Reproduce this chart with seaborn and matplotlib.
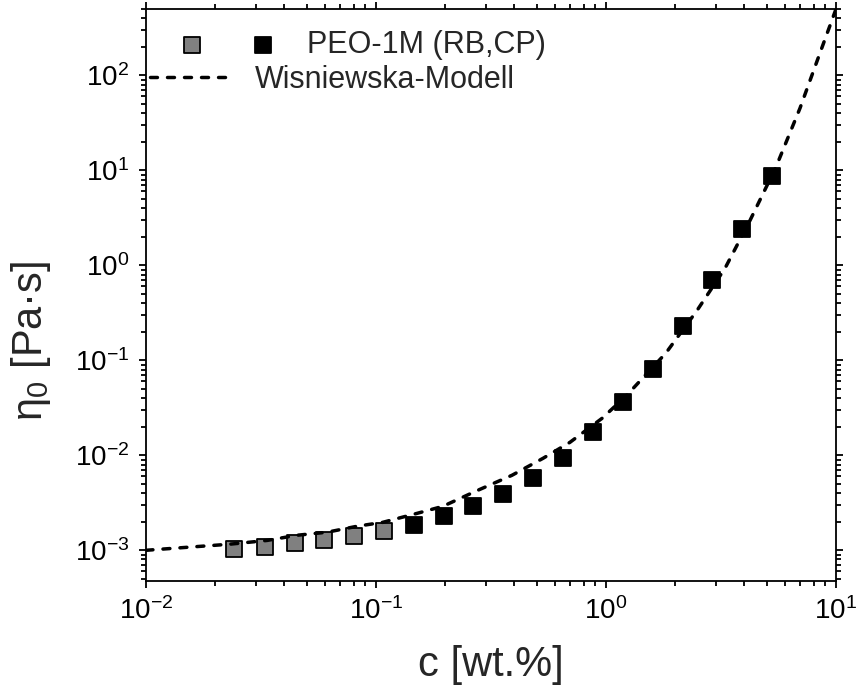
import matplotlib
matplotlib.use("Agg")
import matplotlib.pyplot as plt
from matplotlib.legend_handler import HandlerTuple
from matplotlib.ticker import LogLocator, NullFormatter
import seaborn as sns
import pandas as pd

# ---- data ----
c_grey = [0.0241, 0.0329, 0.0444, 0.0594, 0.0802, 0.1083]
eta_grey = [1.024e-3, 1.075e-3, 1.185e-3, 1.274e-3, 1.404e-3, 1.585e-3]

c_black = [0.1463, 0.1976, 0.2642, 0.3566, 0.4815, 0.6501, 0.8777,
           1.185, 1.600, 2.161, 2.890, 3.903, 5.268]
eta_black = [1.83e-3, 2.28e-3, 2.92e-3, 3.95e-3, 5.82e-3, 9.46e-3, 1.76e-2,
             3.64e-2, 8.04e-2, 0.228, 0.695, 2.39, 8.65]

model_c = [0.01, 0.0232, 0.0336, 0.0454, 0.0613, 0.0826, 0.107, 0.151, 0.195,
           0.277, 0.390, 0.532, 0.697, 0.961, 1.23, 1.82, 2.49, 3.29, 4.23,
           5.48, 6.97, 8.51, 10.0]
model_eta = [1.0e-3, 1.16e-3, 1.27e-3, 1.44e-3, 1.55e-3, 1.79e-3, 1.97e-3,
             2.45e-3, 2.90e-3, 4.28e-3, 6.16e-3, 9.29e-3, 1.37e-2, 2.45e-2,
             4.28e-2, 0.119, 0.336, 0.929, 2.98, 10.8, 45.0, 171.0, 500.0]

label_data = "PEO-1M (RB,CP)"
label_model = "Wisniewska-Modell"
xlabel = "c [wt.%]"
ylabel = r"$\eta_0$ [Pa·s]"

sns.set_style("ticks")
plt.rcParams["font.family"] = ["Liberation Sans", "DejaVu Sans"]
plt.rcParams["mathtext.fontset"] = "custom"
plt.rcParams["mathtext.rm"] = "Liberation Sans"
plt.rcParams["mathtext.it"] = "Liberation Sans"
plt.rcParams["mathtext.default"] = "regular"
plt.rcParams["axes.unicode_minus"] = False

fig = plt.figure(figsize=(8.56, 6.97), dpi=100)
ax = fig.add_axes([146 / 856, 1 - 581 / 697, 690 / 856, 572 / 697])

df_model = pd.DataFrame({"c": model_c, "eta": model_eta})
df_grey = pd.DataFrame({"c": c_grey, "eta": eta_grey})
df_black = pd.DataFrame({"c": c_black, "eta": eta_black})

sns.lineplot(data=df_model, x="c", y="eta", ax=ax, color="black",
             linewidth=2.5, sort=False, estimator=None, zorder=3)
line = ax.lines[-1]
line.set_dashes((2.0, 2.9))
line.set_dash_capstyle("round")

sns.scatterplot(data=df_grey, x="c", y="eta", ax=ax, marker="s", s=120,
                color="#808080", edgecolor="black", linewidth=1.3, zorder=2)
sns.scatterplot(data=df_black, x="c", y="eta", ax=ax, marker="s", s=120,
                color="black", edgecolor="black", linewidth=1.3, zorder=2)
grey_h = ax.collections[0]
black_h = ax.collections[1]

ax.set_xscale("log")
ax.set_yscale("log")
ax.set_xlim(0.01, 10)
ax.set_ylim(4.75e-4, 500)

ax.xaxis.set_major_locator(LogLocator(base=10, numticks=10))
ax.yaxis.set_major_locator(LogLocator(base=10, numticks=12))
ax.xaxis.set_minor_locator(LogLocator(base=10, subs=range(2, 10), numticks=20))
ax.yaxis.set_minor_locator(LogLocator(base=10, subs=range(2, 10), numticks=20))
ax.xaxis.set_minor_formatter(NullFormatter())
ax.yaxis.set_minor_formatter(NullFormatter())
ax.xaxis.offsetText.set_visible(False)
ax.yaxis.offsetText.set_visible(False)

for s in ax.spines.values():
    s.set_linewidth(1.3)
    s.set_color("black")
ax.tick_params(which="both", direction="out", top=True, right=True,
               width=1.3, color="black", labelsize=20, labelcolor="black")
ax.tick_params(which="major", length=5, pad=7)
ax.tick_params(which="minor", length=3.5)

ax.set_xlabel(xlabel, fontsize=30)
ax.set_ylabel(ylabel, fontsize=30)
ax.xaxis.set_label_coords(0.5, -0.112)
ax.yaxis.set_label_coords(-0.135, 0.42)

leg1 = ax.legend([(grey_h, black_h)], [label_data],
                 handler_map={tuple: HandlerTuple(ndivide=2, pad=1.67)},
                 loc="center left", bbox_to_anchor=(0.052, 0.937),
                 frameon=False, fontsize=22, handlelength=2.98,
                 handletextpad=1.11, borderpad=0, borderaxespad=0,
                 scatterpoints=1)
ax.add_artist(leg1)
leg2 = ax.legend([line], [label_model], loc="center left",
                 bbox_to_anchor=(0.0058, 0.876), frameon=False, fontsize=22,
                 handlelength=2.55, handletextpad=0.88, borderpad=0,
                 borderaxespad=0)

fig.savefig("out.png", dpi=100)
